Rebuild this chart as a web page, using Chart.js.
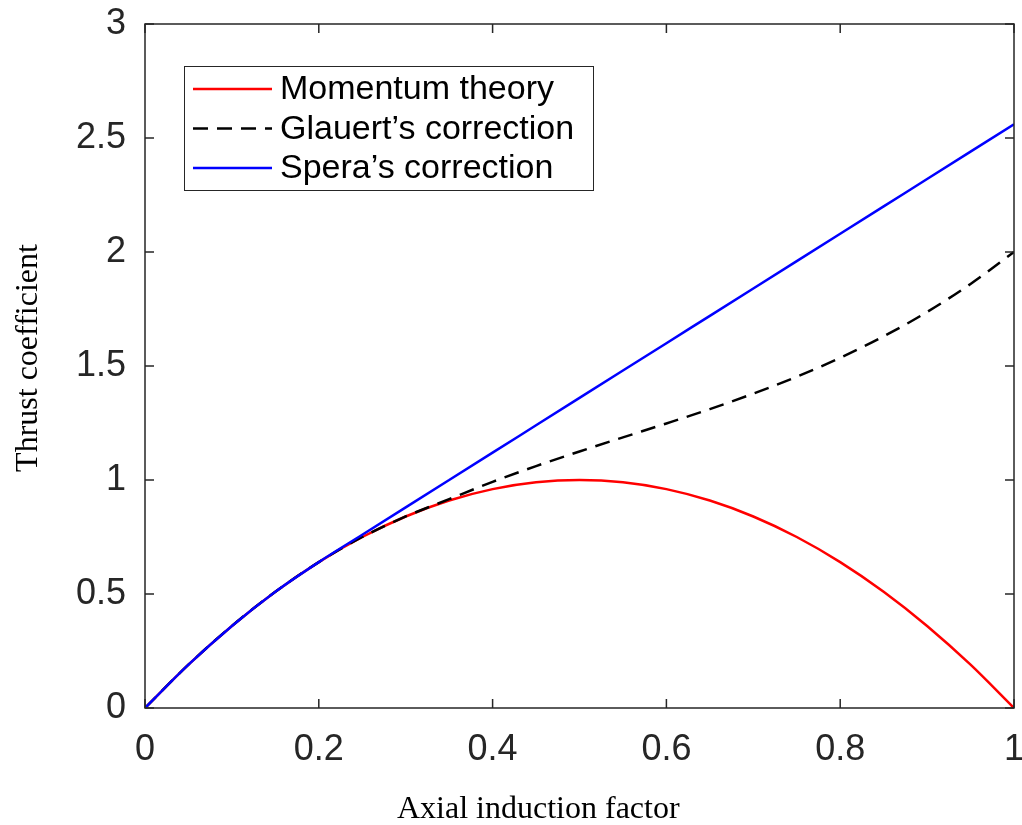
<!DOCTYPE html>
<html>
<head>
<meta charset="utf-8">
<script src="https://cdn.jsdelivr.net/npm/chart.js@4.4.1/dist/chart.umd.min.js"></script>
<style>
  html, body { margin: 0; padding: 0; background: #fff; }
  #thrustChart { display: block; }
</style>
</head>
<body>
<canvas id="thrustChart" width="1022" height="825"></canvas>
<script>
// axial induction factor a
const inductionFactor = [0, 0.05, 0.1, 0.15, 0.2, 0.25, 0.3, 0.35, 0.4, 0.45, 0.5,
    0.55, 0.6, 0.65, 0.7, 0.75, 0.8, 0.85, 0.9, 0.95, 1];
// thrust coefficient curves
const momentumCT = [0, 0.19, 0.36, 0.51, 0.64, 0.75, 0.84, 0.91, 0.96, 0.99, 1.0,
    0.99, 0.96, 0.91, 0.84, 0.75, 0.64, 0.51, 0.36, 0.19, 0];
const glauertCT = [0, 0.19, 0.36, 0.51, 0.64, 0.75, 0.84, 0.916, 0.992, 1.061, 1.125,
    1.187, 1.248, 1.311, 1.379, 1.453, 1.536, 1.63, 1.737, 1.86, 2.0];
const speraCT = [0, 0.19, 0.36, 0.51, 0.64, 0.76, 0.88, 1.0, 1.12, 1.24, 1.36,
    1.48, 1.6, 1.72, 1.84, 1.96, 2.08, 2.2, 2.32, 2.44, 2.56];

const seriesNames = ["Momentum theory", "Glauert\u2019s correction", "Spera\u2019s correction"];
const xTicks = [0, 0.2, 0.4, 0.6, 0.8, 1];
const xTickLabels = ["0", "0.2", "0.4", "0.6", "0.8", "1"];
const yTicks = [0, 0.5, 1, 1.5, 2, 2.5, 3];
const yTickLabels = ["0", "0.5", "1", "1.5", "2", "2.5", "3"];
const xTitle = "Axial induction factor";
const yTitle = "Thrust coefficient";

const AXIS_COLOR = '#262626';
const SANS = '"Liberation Sans", Arial, sans-serif';
const TITLE_FONT = '32px "Liberation Serif", "Times New Roman", serif';
const LINE_W = 2.5;

const toPoints = (ys) => inductionFactor.map((a, i) => ({ x: a, y: ys[i] }));

// MATLAB style box with inward ticks on all four sides, plus legend and axis titles
const matlabFrame = {
    id: 'matlabFrame',
    afterDraw(chart) {
        const { ctx, chartArea: area, scales } = chart;
        const tickLen = 9;
        ctx.save();
        ctx.strokeStyle = AXIS_COLOR;
        ctx.lineWidth = 1.5;
        ctx.strokeRect(area.left, area.top, area.right - area.left, area.bottom - area.top);
        ctx.beginPath();
        xTicks.forEach(v => {
            const px = scales.x.getPixelForValue(v);
            ctx.moveTo(px, area.bottom); ctx.lineTo(px, area.bottom - tickLen);
            ctx.moveTo(px, area.top); ctx.lineTo(px, area.top + tickLen);
        });
        yTicks.forEach(v => {
            const py = scales.y.getPixelForValue(v);
            ctx.moveTo(area.left, py); ctx.lineTo(area.left + tickLen, py);
            ctx.moveTo(area.right, py); ctx.lineTo(area.right - tickLen, py);
        });
        ctx.stroke();

        // legend box
        const box = { left: 184, top: 66, width: 409, height: 124 };
        ctx.fillStyle = '#fff';
        ctx.fillRect(box.left, box.top, box.width, box.height);
        ctx.lineWidth = 1;
        ctx.strokeStyle = AXIS_COLOR;
        ctx.strokeRect(box.left + 0.5, box.top + 0.5, box.width, box.height);
        ctx.font = '34px ' + SANS;
        ctx.textBaseline = 'middle';
        ctx.textAlign = 'left';
        chart.data.datasets.forEach((ds, i) => {
            const y = box.top + 23 + i * 39.5;
            ctx.beginPath();
            ctx.strokeStyle = ds.borderColor;
            ctx.lineWidth = ds.borderWidth;
            ctx.setLineDash(ds.borderDash || []);
            ctx.moveTo(193, y); ctx.lineTo(272, y);
            ctx.stroke();
            ctx.setLineDash([]);
            ctx.fillStyle = '#000';
            ctx.fillText(ds.label, 280, y + 1);
        });

        // axis titles
        ctx.fillStyle = '#000';
        ctx.font = TITLE_FONT;
        ctx.textAlign = 'left';
        ctx.textBaseline = 'alphabetic';
        ctx.fillText(xTitle, 397, 818);
        ctx.translate(37, 358);
        ctx.rotate(-Math.PI / 2);
        ctx.textAlign = 'center';
        ctx.fillText(yTitle, 0, 0);
        ctx.restore();
    }
};

new Chart(document.getElementById('thrustChart'), {
    type: 'line',
    data: {
        datasets: [
            { label: seriesNames[0], data: toPoints(momentumCT), borderColor: '#ff0000', borderWidth: LINE_W, order: 3 },
            { label: seriesNames[1], data: toPoints(glauertCT), borderColor: '#000000', borderWidth: LINE_W, borderDash: [15, 9], order: 2 },
            { label: seriesNames[2], data: toPoints(speraCT), borderColor: '#0000ff', borderWidth: LINE_W, order: 1 },
        ]
    },
    options: {
        responsive: false,
        animation: false,
        layout: { padding: { top: 24, right: 8, left: 0, bottom: 0 } },
        elements: {
            point: { radius: 0 },
            line: { cubicInterpolationMode: 'monotone', fill: false }
        },
        plugins: { legend: { display: false }, tooltip: { enabled: false } },
        scales: {
            x: {
                type: 'linear', min: 0, max: 1,
                grid: { display: false }, border: { display: false },
                afterBuildTicks: (s) => { s.ticks = xTicks.map(v => ({ value: v })); },
                afterFit: (s) => { s.height = 117; s.paddingLeft = 0; s.paddingRight = 0; },
                ticks: {
                    font: { family: SANS, size: 36 },
                    color: AXIS_COLOR, padding: 12, maxRotation: 0,
                    callback: (v) => xTickLabels[xTicks.indexOf(v)]
                }
            },
            y: {
                type: 'linear', min: 0, max: 3,
                grid: { display: false }, border: { display: false },
                afterBuildTicks: (s) => { s.ticks = yTicks.map(v => ({ value: v })); },
                afterFit: (s) => { s.width = 145; s.paddingTop = 0; s.paddingBottom = 0; },
                ticks: {
                    font: { family: SANS, size: 36 },
                    color: AXIS_COLOR, padding: 11,
                    callback: (v) => yTickLabels[yTicks.indexOf(v)]
                }
            }
        }
    },
    plugins: [matlabFrame]
});
</script>
</body>
</html>
